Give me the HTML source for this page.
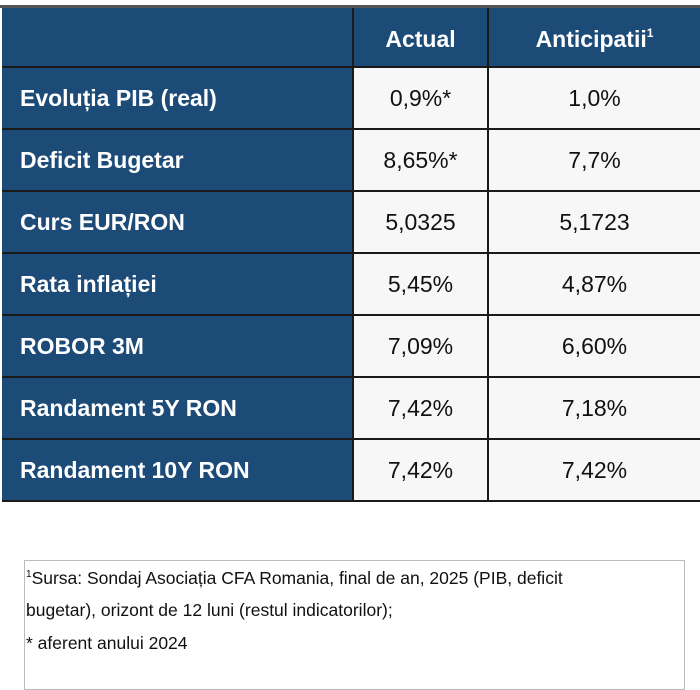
<!DOCTYPE html>
<html><head><meta charset="utf-8"><style>
body{margin:0;width:700px;height:673px;background:#fff;position:relative;overflow:hidden;font-family:"Liberation Sans",sans-serif}
.c{position:absolute;box-sizing:border-box;display:flex;align-items:center;border-right:2px solid #1a1a1a;border-bottom:2px solid #1a1a1a}
.h{background:#1d4b78;color:#fff;font-weight:bold}
.lab{padding-left:18px;font-size:23px}
.v{background:#f7f7f7;color:#111;justify-content:center;font-size:23px}
.hv{justify-content:center;font-size:23px;padding-top:4px}
</style></head><body>
<div style="position:absolute;left:0;top:5px;width:700px;height:3px;background:#555"></div>
<div id="t"></div>
<div style="position:absolute;left:24px;top:560px;width:661px;height:130px;border:1px solid #bbb;box-sizing:border-box"></div>
<div style="position:absolute;left:26px;top:559px;width:680px;font-size:17.5px;line-height:32.5px;color:#111;white-space:nowrap"><sup style="font-size:10px">1</sup>Sursa: Sondaj Asociația CFA Romania, final de an, 2025 (PIB, deficit<br>bugetar), orizont de 12 luni (restul indicatorilor);<br>* aferent anului 2024</div>
<script>
const labels=["Evoluția PIB (real)","Deficit Bugetar","Curs EUR/RON","Rata inflației","ROBOR 3M","Randament 5Y RON","Randament 10Y RON"];
const actual=["0,9%*","8,65%*","5,0325","5,45%","7,09%","7,42%","7,42%"];
const expected=["1,0%","7,7%","5,1723","4,87%","6,60%","7,18%","7,42%"];
const t=document.getElementById('t');
const cols=[2,354,489,702];
const top0=8,hh=60,rh=62;
function cell(x,y,w,h,cls,html,name){const d=document.createElement('div');d.className='c '+cls;d.style.left=x+'px';d.style.top=y+'px';d.style.width=w+'px';d.style.height=h+'px';d.innerHTML=html;


t.appendChild(d);}
cell(cols[0],top0,cols[1]-cols[0],hh,'h','','header-blank');
cell(cols[1],top0,cols[2]-cols[1],hh,'h hv','Actual','header-actual');
cell(cols[2],top0,cols[3]-cols[2],hh,'h hv','Anticipatii<sup style="font-size:12px;position:relative;top:-6px">1</sup>','header-anticipatii');
labels.forEach((l,i)=>{const y=top0+hh+i*rh;
cell(cols[0],y,cols[1]-cols[0],rh,'h lab',l,'row-label-'+(i+1));
cell(cols[1],y,cols[2]-cols[1],rh,'v',actual[i],'actual-value-'+(i+1));
cell(cols[2],y,cols[3]-cols[2],rh,'v',expected[i],'expected-value-'+(i+1));});
</script>
</body></html>
